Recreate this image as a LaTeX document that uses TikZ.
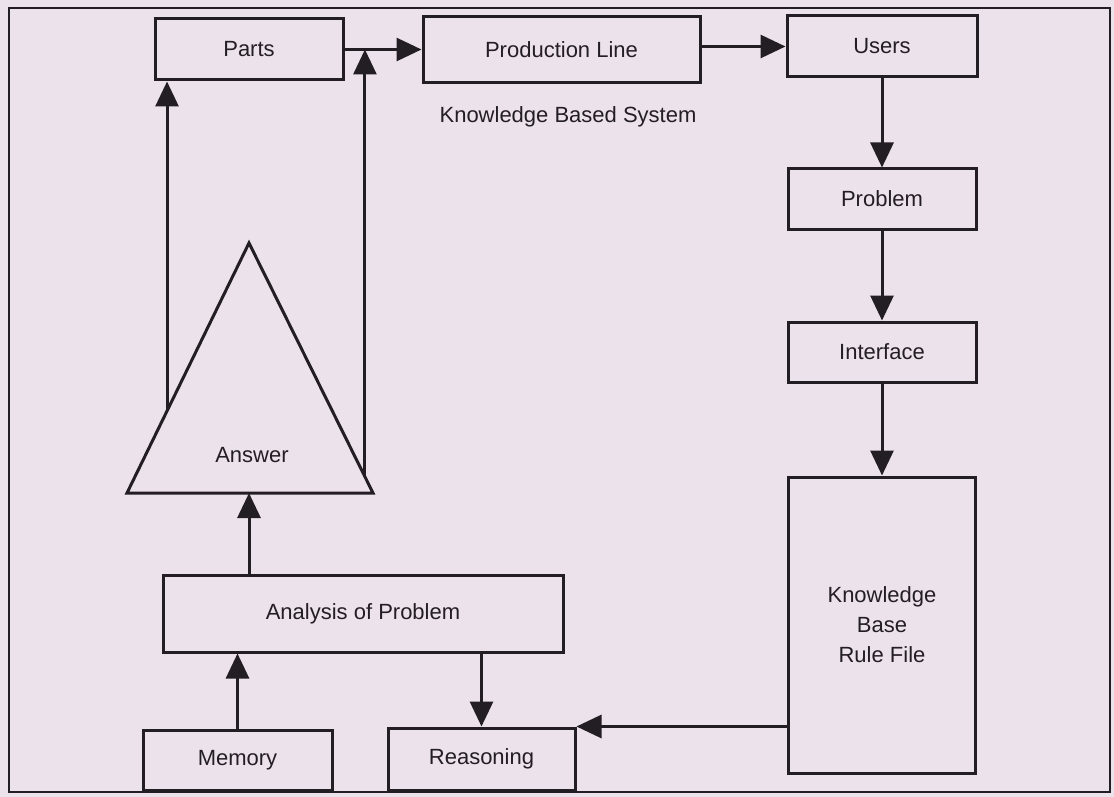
\documentclass[tikz,border=0pt]{standalone}
\usepackage{fontspec}
\setmainfont{Liberation Sans}
\usepackage{tikz}
\usetikzlibrary{arrows.meta,calc}
\definecolor{paper}{RGB}{236,226,236}
\definecolor{ink}{RGB}{35,30,35}

\begin{document}
\begin{tikzpicture}[x=1pt,y=-1pt,
    box/.style={draw=ink, line width=3pt, minimum width=188pt, minimum height=61pt,
      inner sep=0pt, text=ink, font=\fontsize{22}{30}\selectfont},
    lbl/.style={text=ink, font=\fontsize{22}{30}\selectfont},
    link/.style={draw=ink, line width=3pt, -{Triangle[length=25pt,width=23pt]}}]
  \fill[paper] (0,0) rectangle (1114,797);
  \useasboundingbox (0,0) rectangle (1114,797);
  \draw[ink, line width=2.4pt] (9,8) rectangle (1110,792);

  % top row
  \node[box] (parts) at (249,49.5) {Parts};
  \node[box, minimum width=277pt, minimum height=66pt] (prodline) at (561.5,50) {Production Line};
  \node[box, minimum width=190pt] (users) at (882,46.5) {Users};
  \node[lbl] (kbs) at (568,117) {Knowledge Based System};

  % right column
  \node[box, minimum height=60pt] (problem) at (882,199) {Problem};
  \node[box, minimum height=60pt] (interface) at (882,352) {Interface};
  \node[box, minimum width=187pt, minimum height=296pt, align=center] (kb) at (882,625)
    {Knowledge\\Base\\Rule File};

  % bottom row
  \node[box, minimum width=400pt, minimum height=77pt] (analysis) at (363,613.5) {Analysis of Problem};
  \node[box, minimum width=189pt, minimum height=60pt] (memory) at (237.5,760) {Memory};
  \node[box, minimum width=187pt, minimum height=62pt] (reasoning) at (481.5,759) {Reasoning};

  % answer triangle
  \coordinate (apex) at (249,243);
  \coordinate (baseL) at (127,493);
  \coordinate (baseR) at (373,493);
  \draw[ink, line width=3pt] (apex) -- (baseL) -- (baseR) -- cycle;
  \node[lbl] (answer) at (252,455) {Answer};
  \coordinate (lft) at ($(apex)!0.672!(baseL)$);
  \coordinate (rgt) at ($(apex)!0.935!(baseR)$);

  % connectors
  \draw[link] (parts.east) -- (prodline.west |- parts.east);
  \draw[link] (prodline.east |- users) -- (users.west);
  \draw[link] (users.south) -- (problem.north);
  \draw[link] (problem.south) -- (interface.north);
  \draw[link] (interface.south) -- (kb.north);
  \draw[link] (kb.west |- reasoning.north east) -- (reasoning.north east);
  \draw[link] (analysis.south -| reasoning) -- (reasoning.north);
  \draw[link] (memory.north) -- (memory.north |- analysis.south);
  \draw[link] (analysis.north -| apex) -- (apex |- baseL);
  \draw[link] (lft) -- (lft |- parts.south);
  \draw[link] (rgt) -- (rgt |- parts.east);
\end{tikzpicture}
\end{document}
